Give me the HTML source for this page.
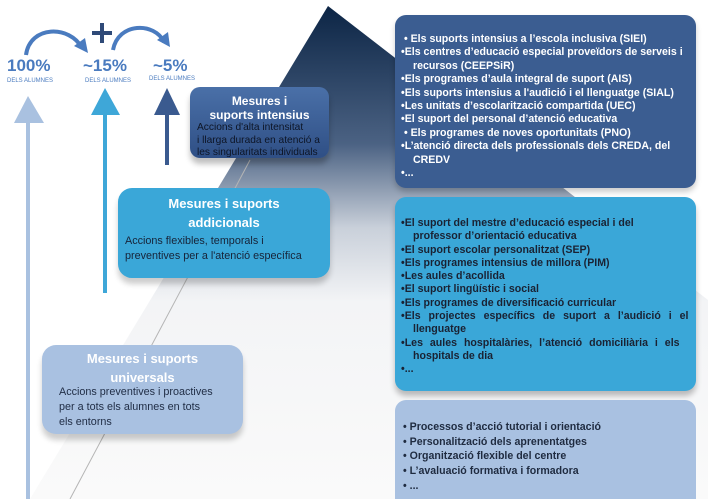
<!DOCTYPE html>
<html><head><meta charset="utf-8"><style>
html,body{margin:0;padding:0;background:#fff;width:708px;height:499px;overflow:hidden;}
body{position:relative;font-family:"Liberation Sans","DejaVu Sans",sans-serif;}
.box{position:absolute;border-radius:11px;box-sizing:border-box;overflow:hidden;}
.r{left:395px;width:301px;font-weight:bold;font-size:10.6px;padding-left:6px;padding-right:6px;}
.r div{white-space:nowrap;}
.in{padding-left:12px;}
.t{color:#fff;font-weight:bold;text-align:center;}
.d{font-size:10.8px;}
.pct{position:absolute;color:#4a7bbf;font-weight:bold;font-size:17px;}
.sm{position:absolute;color:#4a7bbf;font-size:6px;}
</style></head><body>
<svg width="708" height="499" style="position:absolute;left:0;top:0">
<defs>
<linearGradient id="pg" x1="0" y1="0" x2="0" y2="1">
<stop offset="0" stop-color="#0c2545"/>
<stop offset="0.28" stop-color="#4b6283"/>
<stop offset="0.45" stop-color="#c9d0da"/>
<stop offset="0.6" stop-color="#f3f4f6"/>
<stop offset="1" stop-color="#fafafa"/>
</linearGradient>
</defs>
<polygon points="328,6 30,499 708,499 708,300" fill="url(#pg)"/>
<line x1="250" y1="160" x2="70" y2="499" stroke="#b5b5b5" stroke-width="1"/>
<path d="M26,55 C30,25 70,25 82,48" fill="none" stroke="#4a7bbf" stroke-width="4"/>
<polygon points="74,46 88,53 85,38" fill="#4a7bbf"/>
<path d="M113,50 C118,22 155,22 164,42" fill="none" stroke="#4a7bbf" stroke-width="4"/>
<polygon points="157,40 170,47 168,32" fill="#4a7bbf"/>
<rect x="92" y="31" width="20" height="4" fill="#2f4a78"/>
<rect x="100" y="23" width="4" height="20" fill="#2f4a78"/>
<rect x="26" y="120" width="4" height="379" fill="#a9c1e0"/>
<polygon points="28,96 14,123 44,123" fill="#a9c1e0"/>
<rect x="103" y="110" width="4" height="183" fill="#3ea7d8"/>
<polygon points="105,88 91,115 120,115" fill="#3ea7d8"/>
<rect x="165" y="110" width="4" height="55" fill="#3a5a8f"/>
<polygon points="167,88 154,115 180,115" fill="#3a5a8f"/>
</svg>
<div class="pct" style="left:7px;top:56px">100%</div>
<div class="sm" style="left:7px;top:78px">DELS ALUMNES</div>
<div class="pct" style="left:83px;top:56px">~15%</div>
<div class="sm" style="left:85px;top:78px">DELS ALUMNES</div>
<div class="pct" style="left:153px;top:56px">~5%</div>
<div class="sm" style="left:149px;top:76px">DELS ALUMNES</div>

<div class="box" style="left:190px;top:87px;width:139px;height:71px;background:linear-gradient(#4a70a8,#2f4f85);box-shadow:0 6px 6px rgba(0,0,0,0.25);border-radius:10px">
<div class="t" style="font-size:12px;line-height:14px;margin-top:7px">Mesures i<br>suports intensius</div>
<div style="color:#0d1526;line-height:12.5px;padding-left:7px;font-size:10.2px;white-space:nowrap">Accions d'alta intensitat<br>i llarga durada en atenció a<br>les singularitats individuals</div>
</div>
<div class="box" style="left:118px;top:188px;width:212px;height:90px;background:#3aa7d8;box-shadow:0 6px 6px rgba(0,0,0,0.2);border-radius:14px">
<div class="t" style="font-size:13px;line-height:19px;margin-top:6px">Mesures i suports<br>addicionals</div>
<div class="d" style="color:#172338;line-height:15px;padding-left:7px;margin-top:2px;white-space:nowrap">Accions flexibles, temporals i<br>preventives per a l'atenció específica</div>
</div>
<div class="box" style="left:42px;top:345px;width:201px;height:89px;background:#a9c1e1;box-shadow:0 6px 6px rgba(0,0,0,0.2);border-radius:14px">
<div class="t" style="font-size:13px;line-height:19px;margin-top:4px">Mesures i suports<br>universals</div>
<div class="d" style="color:#1f2c44;line-height:15px;padding-left:17px;margin-top:-2px;white-space:nowrap">Accions preventives i proactives<br>per a tots els alumnes en tots<br>els entorns</div>
</div>

<div class="box r" style="top:15px;height:173px;background:#3b5d91;color:#fff;line-height:13.4px;padding-top:18px;box-shadow:0 4px 6px rgba(0,0,0,0.2)">
<div>&nbsp;• Els suports intensius a l’escola inclusiva (SIEI)</div>
<div>•Els centres d’educació especial proveïdors de serveis i</div>
<div class="in">recursos (CEEPSiR)</div>
<div>•Els programes d’aula integral de suport (AIS)</div>
<div>•Els suports intensius a l'audició i el llenguatge (SIAL)</div>
<div>•Les unitats d’escolarització compartida (UEC)</div>
<div>•El suport del personal d’atenció educativa</div>
<div>&nbsp;• Els programes de noves oportunitats (PNO)</div>
<div>•L’atenció directa dels professionals dels CREDA, del</div>
<div class="in">CREDV</div>
<div>•...</div>
</div>
<div class="box r" style="top:197px;height:194px;background:#3aa7d8;color:#1a2233;line-height:13.3px;padding-top:20px;box-shadow:0 5px 6px rgba(0,0,0,0.25)">
<div>•El suport del mestre d’educació especial i del</div>
<div class="in">professor d’orientació educativa</div>
<div>•El suport escolar personalitzat (SEP)</div>
<div>•Els programes intensius de millora (PIM)</div>
<div>•Les aules d’acollida</div>
<div>•El suport lingüístic i social</div>
<div>•Els programes de diversificació curricular</div>
<div style="word-spacing:5px">•Els projectes específics de suport a l’audició i el</div>
<div class="in">llenguatge</div>
<div style="word-spacing:4px">•Les aules hospitalàries, l’atenció domiciliària i els</div>
<div class="in">hospitals de dia</div>
<div>•...</div>
</div>
<div class="box r" style="top:400px;height:110px;background:#a9c1e1;color:#1f2b40;line-height:14.7px;padding-top:20px;padding-left:8px">
<div>• Processos d’acció tutorial i orientació</div>
<div>• Personalització dels aprenentatges</div>
<div>• Organització flexible del centre</div>
<div>• L’avaluació formativa i formadora</div>
<div>• ...</div>
</div>
</body></html>
